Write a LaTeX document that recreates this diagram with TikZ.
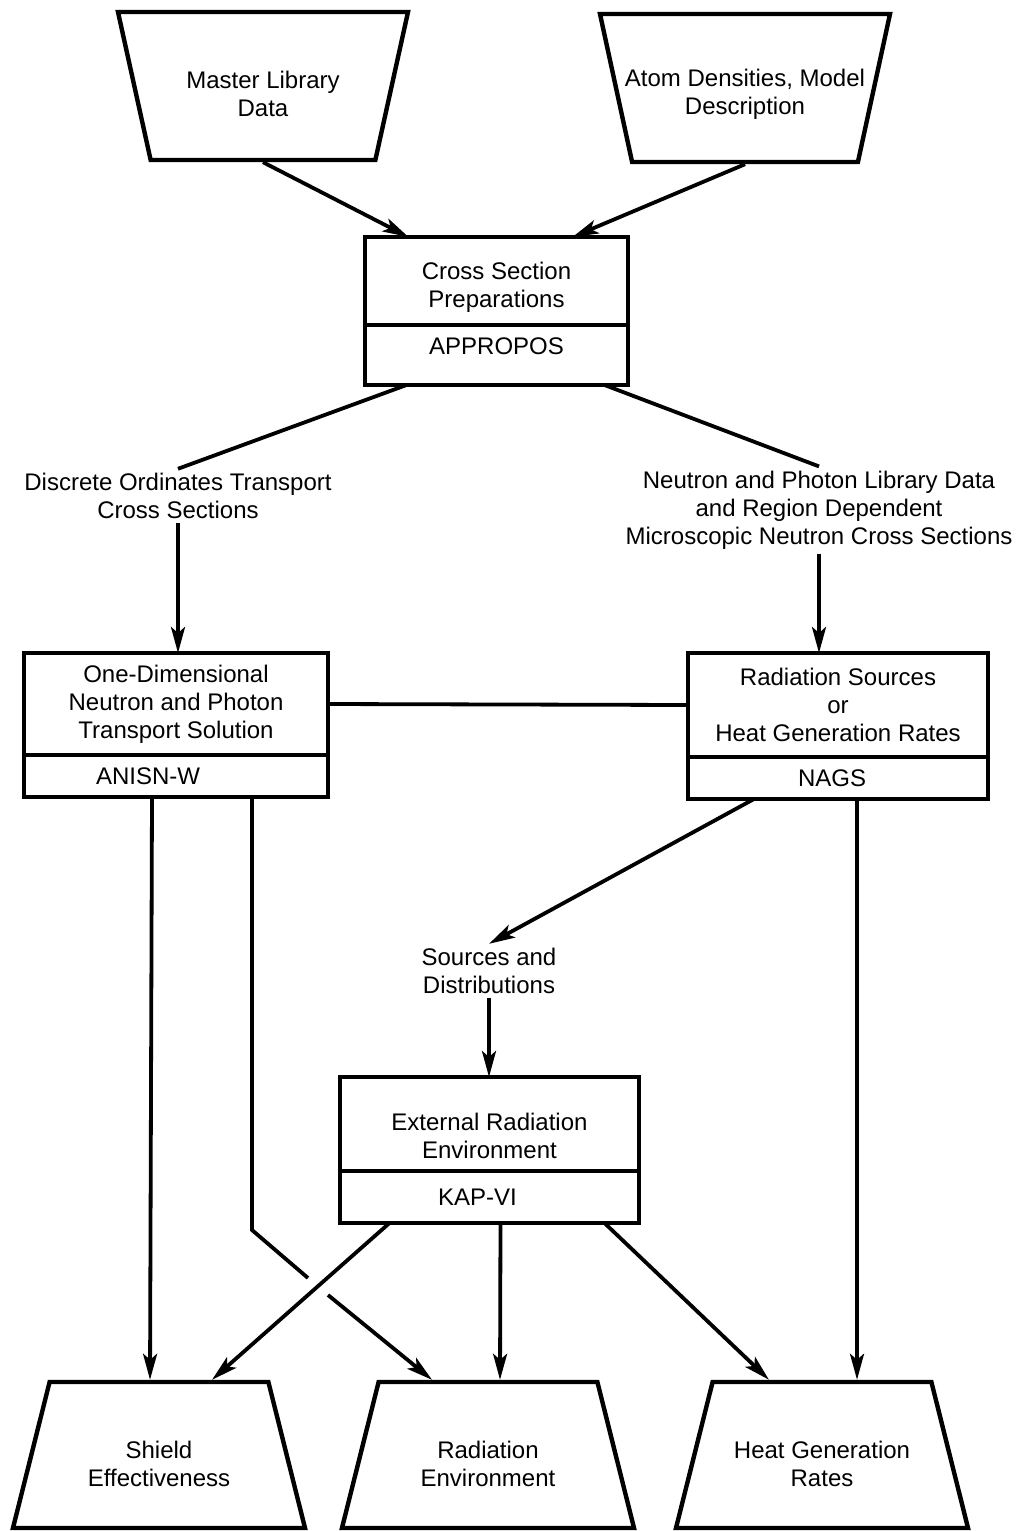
\documentclass[tikz,border=0pt]{standalone}
\usepackage{fontspec}
\setmainfont{Liberation Sans}
\usetikzlibrary{calc,positioning,shapes.geometric,arrows.meta}

\begin{document}
\begin{tikzpicture}[x = 0.5pt, y = -0.5pt,
  every node/.style = {font = \fontsize{12}{14}\selectfont, align = center},
  sink/.style = {text height = #1, text depth = 0pt},
  upper/.style = {draw, line width = 2.2pt, inner sep = 0pt, outer sep = 0pt},
  lower/.style = {upper},
  inbox/.style = {trapezium, draw, line width = 2.2pt, inner sep = 0pt, trapezium stretches body, minimum width = 145pt, minimum height = 74pt, shape border rotate = 180},
  outbox/.style = {trapezium, draw, line width = 2.2pt, inner sep = 0pt, trapezium left angle = 60, trapezium right angle = 60, trapezium stretches body, minimum width = 146pt, minimum height = 73pt, sink = 31.7pt},
  note/.style = {inner sep = 2pt},
  line/.style = {line width = 1.9pt},
  arr/.style = {line width = 1.9pt, -{Stealth[length = 13pt, width = 7pt, inset = 3pt]}}]
\useasboundingbox (0, 0) rectangle (1018, 1531);
%\draw [help lines, step = 50] (0, 0) grid (1018, 1531);
\node [inbox, sink = 30.7pt, trapezium left angle = 62, trapezium right angle = 62] (lib) at (263, 86) {Master Library\\Data};
\node [inbox, sink = 26.7pt, trapezium left angle = 59, trapezium right angle = 59] (atom) at (745, 88) {\makebox[100pt]{Atom Densities, Model}\\Description};
\node [upper, sink = 26.8pt, minimum width = 131.5pt, minimum height = 44pt] (xs) at (496.5, 281) {Cross Section\\Preparations};
\node [lower, minimum width = 131.5pt, minimum height = 30pt, text depth = 9pt, below = 0pt of xs] (xsl) {APPROPOS};
\node [note] (dot) at (178, 496) {Discrete Ordinates Transport\\Cross Sections};
\node [note] (nsrc) at (819, 510) {Neutron and Photon Library Data\\and Region Dependent\\Microscopic Neutron Cross Sections};
\node [upper, minimum width = 152pt, minimum height = 51pt] (anisn) at (176, 704) {One-Dimensional\\Neutron and Photon\\Transport Solution};
\node [lower, minimum width = 152pt, minimum height = 21pt, below = 0pt of anisn] (anl) {\hspace*{-28pt}ANISN-W};
\node [upper, minimum width = 150pt, minimum height = 52pt] (rad) at (838, 705) {Radiation Sources\\or\\Heat Generation Rates};
\node [lower, minimum width = 150pt, minimum height = 21pt, below = 0pt of rad] (nags) {\hspace*{-6pt}NAGS};
\node [note] (src) at (489, 971) {Sources and\\Distributions};
\node [upper, sink = 34.7pt, minimum width = 149.5pt, minimum height = 47pt] (ext) at (489.5, 1124) {External Radiation\\Environment};
\node [lower, minimum width = 149.5pt, minimum height = 26pt, below = 0pt of ext] (kap) {\hspace*{-12pt}KAP-VI};
\node [outbox] (shield) at (159, 1455) {Shield\\Effectiveness};
\node [outbox] (renv) at (488, 1455) {Radiation\\Environment};
\node [outbox] (heat) at (822, 1455) {Heat Generation\\Rates};
\coordinate (bend) at (252, 1230);
\coordinate (gapa) at (308, 1278);
\coordinate (gapb) at (328, 1295);
\draw [arr] (lib.south) -- ($(xs.north) + (-88, 0)$);
\draw [arr] (atom.south) -- ($(xs.north) + (76, 0)$);
\draw [line] ($(xsl.south) + (-90, 0)$) -- (dot.north);
\draw [line] ($(xsl.south) + (108, 0)$) -- (nsrc.north);
\draw [arr] (dot.south) -- (dot.south |- anisn.north);
\draw [arr] (nsrc.south) -- (nsrc.south |- rad.north);
\draw [line] (anisn.east) -- (rad.west);
\draw [arr] ($(nags.south) + (-84, 0)$) -- (src.north);
\draw [arr] (src.south) -- (src.south |- ext.north);
\draw [arr] ($(anl.south) + (-24, 0)$) -- ($(shield.north) + (-9, 0)$);
\draw [line] ($(anl.south) + (76, 0)$) -- (bend) -- (gapa);
\draw [arr] (gapb) -- ($(renv.north) + (-56, 0)$);
\draw [arr] ($(kap.south) + (-100, 0)$) -- ($(shield.north) + (53, 0)$);
\draw [arr] ($(kap.south) + (11, 0)$) -- ($(renv.north) + (12, 0)$);
\draw [arr] ($(kap.south) + (115, 0)$) -- ($(heat.north) + (-53, 0)$);
\draw [arr] ($(nags.south) + (19, 0)$) -- ($(heat.north) + (35, 0)$);
\end{tikzpicture}
\end{document}
